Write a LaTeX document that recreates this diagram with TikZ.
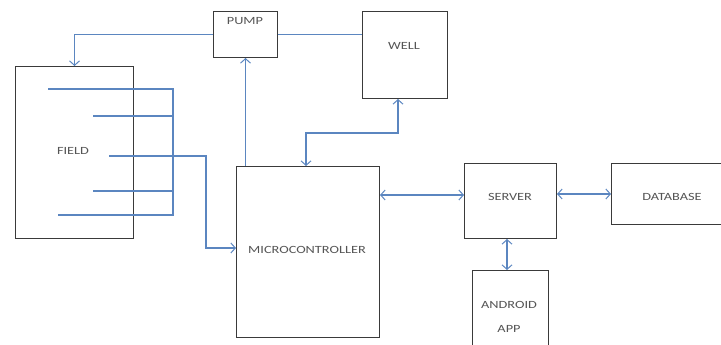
\documentclass[tikz,border=0pt]{standalone}
\usepackage{fontspec}
\setmainfont{Carlito}
\usetikzlibrary{arrows.meta,calc}
\definecolor{linkblue}{HTML}{5B86C0}
\definecolor{boxgray}{HTML}{3A3A3A}
\definecolor{txtgray}{HTML}{555555}
\tikzset{
  box/.style={draw=boxgray,line width=1pt,fill=white,inner sep=0pt,anchor=north west},
  lbl/.style={text=txtgray,font=\fontsize{11}{13}\selectfont\addfontfeatures{FakeStretch=1.3},inner sep=0pt},
  link/.style={draw=linkblue,line width=1.3pt},
  arr/.style={link,-{Straight Barb[length=4.5pt,width=10pt,line width=1pt]}},
  darr/.style={link,{Straight Barb[length=4.5pt,width=10pt,line width=1pt]}-{Straight Barb[length=4.5pt,width=10pt,line width=1pt]}},
}
\begin{document}
\begin{tikzpicture}[x=1pt,y=-1pt]
\useasboundingbox (0,0) rectangle (721,345);
% boxes
\node[box,minimum width=118pt,minimum height=172pt] (field) at (15,66) {};
\node[box,minimum width=64pt,minimum height=46pt] (pump) at (213,11) {};
\node[box,minimum width=85pt,minimum height=87pt] (well) at (362,11) {};
\node[box,minimum width=143pt,minimum height=171pt] (micro) at (236,166) {};
\node[box,minimum width=92pt,minimum height=75pt] (server) at (464,163) {};
\node[box,minimum width=110pt,minimum height=61pt] (db) at (611,163) {};
\node[box,minimum width=76pt,minimum height=90pt] (android) at (472,270) {};
% labels
\node[lbl] (fieldL) at (73,151) {FIELD};
\node[lbl] (pumpL) at (245,21) {PUMP};
\node[lbl] (wellL) at (404,46) {WELL};
\node[lbl] (microL) at (307,250) {MICROCONTROLLER};
\node[lbl] (serverL) at (510,197) {SERVER};
\node[lbl] (dbL) at (672,197) {DATABASE};
\node[lbl] (androidL) at (509,305) {ANDROID};
\node[lbl] (appL) at (509,329) {APP};
% field sensor lines
\coordinate (s1) at (48,89);
\coordinate (s2) at (93,116);
\coordinate (s3) at (109,156);
\coordinate (s4) at (93,191);
\coordinate (s5) at (58,215);
\coordinate (bus1) at (173,89);
\coordinate (bus5) at (173,215);
\draw[link] (s1) -- (bus1) -- (bus5) -- (s5);
\draw[link] (s2) -- (s2 -| bus1);
\draw[link] (s4) -- (s4 -| bus1);
\coordinate (fm) at (206,248);
\draw[arr] (s3) -| (fm) -- (fm -| micro.west);
% pump to field
\draw[arr] (pump.west) -| (field.north);
% pump to well
\draw[link] (pump.east) -- (pump.east -| well.west);
% micro to pump
\draw[arr] (pump.south |- micro.north) -- (pump.south);
% well <-> micro
\coordinate (wm) at (306,133);
\draw[darr] (wm |- micro.north) -- (wm) -| (398,0 |- well.south);
% micro <-> server
\coordinate (ms) at (0,195);
\draw[darr] (micro.east |- ms) -- (server.west |- ms);
% server <-> database
\coordinate (sd) at (0,194);
\draw[darr] (server.east |- sd) -- (db.west |- sd);
% server <-> android
\coordinate (sa) at (507,0);
\draw[darr] (sa |- server.south) -- (sa |- android.north);
\end{tikzpicture}
\end{document}
